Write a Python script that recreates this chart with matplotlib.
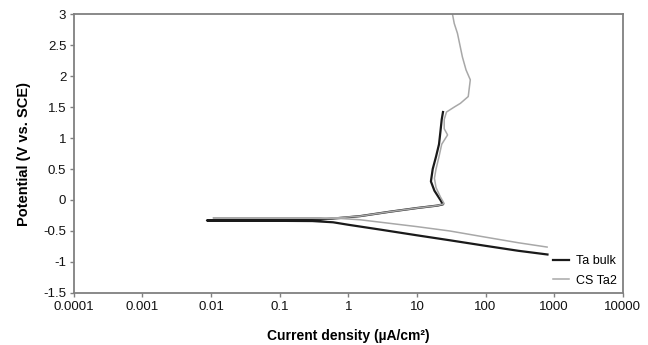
import matplotlib
matplotlib.use("Agg")
import matplotlib.pyplot as plt

plt.rcParams['font.family'] = ['Liberation Sans', 'DejaVu Sans']

# Ta bulk (black): cathodic branch -> Ecorr -> anodic branch
bulk_i = [800, 300, 100, 30, 10, 3, 1, 0.6, 0.3, 0.05, 0.0087, 0.05, 0.3, 0.6,
          1.5, 4, 10, 20, 24, 22, 18, 16, 17, 19, 21, 22, 23, 24]
bulk_E = [-0.88, -0.82, -0.74, -0.65, -0.57, -0.48, -0.40, -0.36, -0.34, -0.335, -0.33,
          -0.33, -0.32, -0.30, -0.26, -0.19, -0.13, -0.09, -0.07, 0.0, 0.15, 0.3,
          0.5, 0.7, 0.9, 1.1, 1.3, 1.42]

# CS Ta2 (grey)
cs_i = [790, 300, 100, 30, 10, 3, 1.5, 0.8, 0.3, 0.0107, 0.3, 0.5, 1.5, 4, 10, 20,
        25, 22, 19, 18, 19, 21, 23, 28, 25, 25, 27, 35, 43, 56, 60, 52, 46, 39, 35, 33]
cs_E = [-0.76, -0.69, -0.60, -0.50, -0.43, -0.36, -0.32, -0.30, -0.29, -0.29, -0.295,
        -0.30, -0.26, -0.19, -0.13, -0.09, -0.06, 0.05, 0.2, 0.35, 0.5, 0.7, 0.9,
        1.05, 1.15, 1.3, 1.42, 1.5, 1.56, 1.67, 1.94, 2.1, 2.31, 2.69, 2.85, 3.0]

x_ticks = [0.0001, 0.001, 0.01, 0.1, 1, 10, 100, 1000, 10000]
x_labels = ['0.0001', '0.001', '0.01', '0.1', '1', '10', '100', '1000', '10000']
y_ticks = [-1.5, -1, -0.5, 0, 0.5, 1, 1.5, 2, 2.5, 3]
y_labels = ['-1.5', '-1', '-0.5', '0', '0.5', '1', '1.5', '2', '2.5', '3']

fig = plt.figure(figsize=(6.48, 3.45), dpi=100)
ax = fig.add_axes([0.114, 0.151, 0.847, 0.808])

ax.plot(bulk_i, bulk_E, color='#1a1a1a', lw=1.6, label='Ta bulk')
ax.plot(cs_i, cs_E, color='#a8a8a8', lw=1.1, label='CS Ta2')

ax.set_xscale('log')
ax.set_xlim(0.0001, 10000)
ax.set_ylim(-1.5, 3)
ax.set_xticks(x_ticks)
ax.set_xticklabels(x_labels)
ax.minorticks_off()
ax.set_yticks(y_ticks)
ax.set_yticklabels(y_labels)

for s in ax.spines.values():
    s.set_color('#808080')
    s.set_linewidth(1.3)
ax.tick_params(axis='both', direction='out', length=3, width=1, color='#808080',
               labelsize=9.5, labelcolor='#111111', pad=2.5)

ax.set_xlabel('Current density (µA/cm²)', fontsize=10, fontweight='bold', labelpad=12)
ax.set_ylabel('Potential (V vs. SCE)', fontsize=10.5, fontweight='bold', labelpad=9)

leg = ax.legend(loc='lower right', bbox_to_anchor=(1.0, 0.0), frameon=False,
                fontsize=9, handlelength=1.3, handletextpad=0.5,
                labelspacing=0.6, borderaxespad=0.1)

fig.savefig('out.png', dpi=100)
